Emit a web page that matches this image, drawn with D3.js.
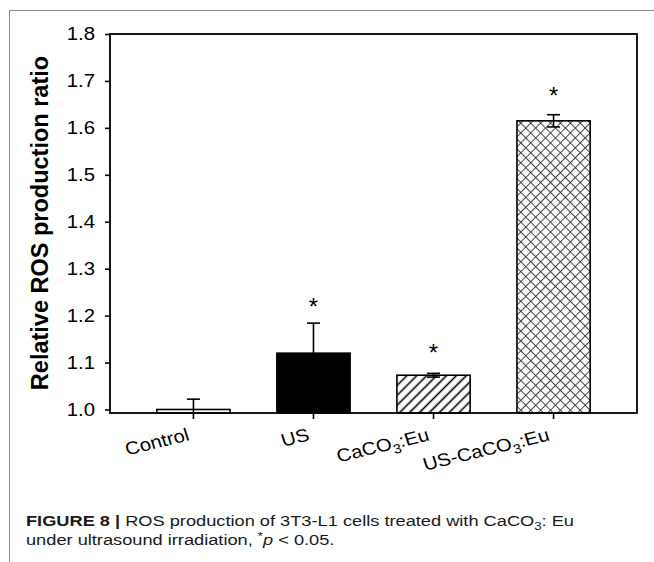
<!DOCTYPE html>
<html>
<head>
<meta charset="utf-8">
<script src="https://cdn.jsdelivr.net/npm/d3@7"></script>
<style>
  body { margin: 0; background: #fff; }
  svg { display: block; font-family: "Liberation Sans", Arial, sans-serif; }
</style>
</head>
<body>
<script>
// data
const categories = ["Control", "US", "CaCO3:Eu", "US-CaCO3:Eu"];
const means = [1.0, 1.12, 1.073, 1.615];
const errors = [0.022, 0.064, 0.004, 0.013];
const starAt = [null, 1.229, 1.131, 1.679];
const yTicks = [1.0, 1.1, 1.2, 1.3, 1.4, 1.5, 1.6, 1.7, 1.8];
const fills = ["#fff", "#000", "url(#hatch)", "url(#cross)"];

const W = 654, H = 562;
const margin = { top: 34, left: 110, bottom: 149, right: 17 };
const width = W - margin.left - margin.right;
const height = H - margin.top - margin.bottom;
// the source figure's lettering is a bit wider than plain Arial
const sx = 1.13;

const data = categories.map((c, i) => ({
  cat: c, mean: means[i], err: errors[i], star: starAt[i], fill: fills[i],
}));

const svg = d3.create("svg").attr("width", W).attr("height", H);

// patterns
const defs = svg.append("defs");
const hatch = defs.append("pattern")
  .attr("id", "hatch").attr("patternUnits", "userSpaceOnUse")
  .attr("width", 7).attr("height", 7)
  .attr("patternTransform", "rotate(45)");
hatch.append("rect").attr("width", 7).attr("height", 7).attr("fill", "#fff");
hatch.append("line").attr("x1", 3.5).attr("x2", 3.5).attr("y1", 0).attr("y2", 7)
  .attr("stroke", "#000").attr("stroke-width", 1.6);

const cross = defs.append("pattern")
  .attr("id", "cross").attr("patternUnits", "userSpaceOnUse")
  .attr("width", 7).attr("height", 7)
  .attr("patternTransform", "rotate(45)");
cross.append("rect").attr("width", 7).attr("height", 7).attr("fill", "#fff");
cross.append("line").attr("x1", 3.5).attr("x2", 3.5).attr("y1", 0).attr("y2", 7)
  .attr("stroke", "#333").attr("stroke-width", 0.9);
cross.append("line").attr("y1", 3.5).attr("y2", 3.5).attr("x1", 0).attr("x2", 7)
  .attr("stroke", "#333").attr("stroke-width", 0.9);

defs.append("clipPath").attr("id", "plotclip")
  .append("rect").attr("width", width).attr("height", height);

// outer frame (top and left rules)
svg.append("line").attr("x1", 9).attr("x2", W).attr("y1", 10.5).attr("y2", 10.5)
  .attr("stroke", "#8c8c8c").attr("stroke-width", 1);
svg.append("line").attr("x1", 9.5).attr("x2", 9.5).attr("y1", 10).attr("y2", H)
  .attr("stroke", "#8c8c8c").attr("stroke-width", 1);

const x = d3.scaleBand().domain(categories).range([0, width]).padding(0.39);
const y = d3.scaleLinear().domain([0.9925, 1.8]).range([height, 0]);

const chart = svg.append("g")
  .attr("transform", `translate(${margin.left},${margin.top})`);

// bars
chart.selectAll(".bar")
  .data(data)
  .join("rect")
  .attr("class", "bar")
  .attr("x", (d) => x(d.cat))
  .attr("width", x.bandwidth())
  .attr("y", (d) => y(d.mean))
  .attr("height", (d) => y.range()[0] - y(d.mean))
  .attr("fill", (d) => d.fill)
  .attr("stroke", "#000")
  .attr("stroke-width", 1.6);

// error bars
const eb = chart.append("g").attr("clip-path", "url(#plotclip)")
  .selectAll("g").data(data).join("g")
  .attr("transform", (d) => `translate(${x(d.cat) + x.bandwidth() / 2},0)`);
eb.append("line")
  .attr("y1", (d) => y(d.mean - d.err)).attr("y2", (d) => y(d.mean + d.err))
  .attr("stroke", "#000").attr("stroke-width", 1.6);
eb.append("line")
  .attr("x1", -6.5).attr("x2", 6.5)
  .attr("y1", (d) => y(d.mean + d.err)).attr("y2", (d) => y(d.mean + d.err))
  .attr("stroke", "#000").attr("stroke-width", 1.6);
eb.append("line")
  .attr("x1", -6.5).attr("x2", 6.5)
  .attr("y1", (d) => y(d.mean - d.err)).attr("y2", (d) => y(d.mean - d.err))
  .attr("stroke", "#000").attr("stroke-width", 1.6);

// significance stars
chart.selectAll(".star")
  .data(data.filter((d) => d.star !== null))
  .join("text")
  .attr("class", "star")
  .attr("x", (d) => x(d.cat) + x.bandwidth() / 2)
  .attr("y", (d) => y(d.star) + 13.5)
  .attr("text-anchor", "middle")
  .attr("font-size", 24)
  .text("*");

// y axis
const yAxis = chart.append("g")
  .call(d3.axisLeft(y).tickValues(yTicks).tickSize(5).tickSizeOuter(0)
    .tickFormat(d3.format(".1f")));
yAxis.select(".domain").remove();
yAxis.selectAll(".tick line").attr("stroke-width", 1.6);
yAxis.selectAll(".tick text")
  .attr("font-size", 18).attr("fill", "#000")
  .attr("x", -15 / sx)
  .attr("transform", `scale(${sx},1)`)
  .attr("font-family", "Liberation Sans, Arial, sans-serif");

// x axis
const xAxis = chart.append("g")
  .attr("transform", `translate(0,${height})`)
  .call(d3.axisBottom(x).tickSize(6).tickSizeOuter(0).tickFormat(""));
xAxis.select(".domain").remove();
xAxis.selectAll(".tick line").attr("stroke-width", 1.6);

// plot frame
chart.append("rect")
  .attr("width", width).attr("height", height)
  .attr("fill", "none").attr("stroke", "#000").attr("stroke-width", 1.8);

// category labels, rotated
const lab = chart.selectAll(".xlab")
  .data(categories)
  .join("text")
  .attr("class", "xlab")
  .attr("text-anchor", "end")
  .attr("font-size", 18)
  .attr("transform", (d) =>
    `translate(${x(d) + x.bandwidth() / 2 - 3},${height + 27}) scale(${sx},1) rotate(-15.5)`);
lab.each(function (d) {
  const t = d3.select(this);
  const m = d.match(/^(.*CaCO)3(.*)$/);
  if (m) {
    t.append("tspan").text(m[1]);
    t.append("tspan").attr("dy", 5).attr("font-size", 13).text("3");
    t.append("tspan").attr("dy", -5).text(m[2]);
  } else {
    t.text(d);
  }
});

// y axis title
svg.append("text")
  .attr("transform", `translate(48,223) rotate(-90)`)
  .attr("text-anchor", "middle")
  .attr("font-weight", "bold")
  .attr("font-size", 23.5)
  .text("Relative ROS production ratio");

// caption
const csx = 1.2;
const cap = svg.append("g").attr("font-size", 15.2).attr("fill", "#1a1a1a")
  .attr("transform", `scale(${csx},1)`);
const l1 = cap.append("text").attr("x", 26 / csx).attr("y", 526.5);
l1.append("tspan").attr("font-weight", "bold").text("FIGURE 8 | ");
l1.append("tspan").text("ROS production of 3T3-L1 cells treated with CaCO");
l1.append("tspan").attr("dy", 4).attr("font-size", 11).text("3");
l1.append("tspan").attr("dy", -4).text(": Eu");
const l2 = cap.append("text").attr("x", 26 / csx).attr("y", 545);
l2.append("tspan").text("under ultrasound irradiation, ");
l2.append("tspan").attr("dy", -5).attr("font-size", 11).text("*");
l2.append("tspan").attr("dy", 5).attr("font-style", "italic").text("p");
l2.append("tspan").text(" < 0.05.");

d3.select("body").append(() => svg.node());
</script>
</body>
</html>
